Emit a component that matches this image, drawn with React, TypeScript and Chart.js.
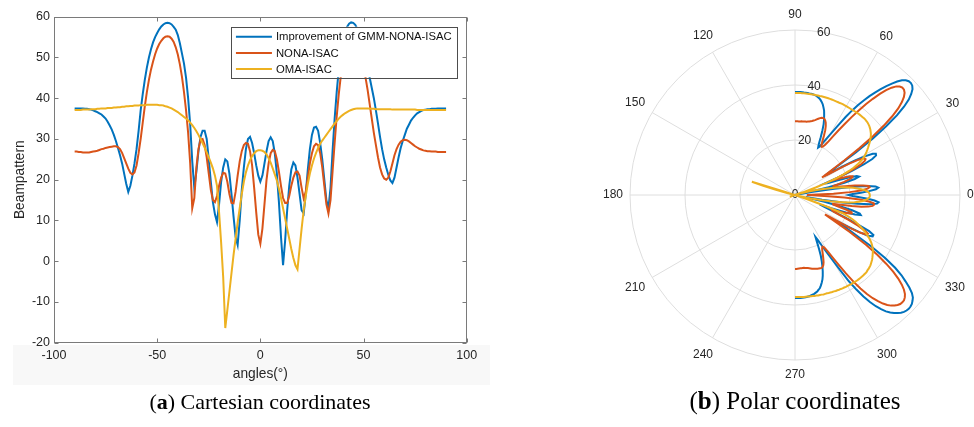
import React, { useEffect, useRef } from "react";
import { Chart, registerables } from "chart.js";

Chart.register(...registerables);

// ---------- data ----------
// sample angles (degrees) of the beampattern, -90 .. 90 in 1° steps
const ANGLES: number[] = Array.from({ length: 181 }, (_, i) => i - 90);

const SERIES_LABELS = ["Improvement of GMM-NONA-ISAC", "NONA-ISAC", "OMA-ISAC"];

// Improvement of GMM-NONA-ISAC
const GMM_NONA: number[] = [
  37.5, 37.5, 37.5, 37.5, 37.5, 37.4, 37.4, 37.3, 37.2, 37.0, // -90..-81
  36.8, 36.6, 36.3, 36.0, 35.5, 35.0, 34.2, 33.3, 32.3, 31.0, // -80..-71
  29.5, 27.8, 26.0, 24.0, 21.5, 19.0, 17.0, 18.5, 21.0, 24.0, // -70..-61
  27.5, 32.0, 37.0, 41.0, 44.5, 47.5, 50.0, 52.0, 53.7, 55.0, // -60..-51
  56.0, 56.9, 57.6, 58.1, 58.4, 58.5, 58.4, 58.1, 57.5, 56.8, // -50..-41
  55.5, 53.5, 51.0, 48.5, 45.0, 40.0, 33.5, 24.5, 18.0, 22.0, // -40..-31
  27.0, 30.5, 32.0, 32.0, 30.0, 25.0, 19.5, 14.5, 11.5, 9.6,  // -30..-21
  14.0, 19.5, 23.0, 25.0, 24.5, 21.5, 16.5, 11.0, 6.0, 4.0,   // -20..-11
  10.0, 17.5, 23.0, 27.5, 30.0, 30.5, 29.0, 26.5, 23.5, 21.0, // -10..-1
  19.5,                                                       // 0
  21.0, 24.0, 27.0, 29.5, 30.4, 29.5, 26.5, 21.5, 14.5, 6.0,  // 1..10
  -1.0, 5.0, 12.5, 18.5, 22.5, 24.2, 23.5, 20.5, 16.5, 12.5,  // 11..20
  11.7, 16.5, 22.5, 27.5, 31.0, 32.8, 33.0, 32.0, 29.0, 25.0, // 21..30
  20.0, 15.0, 13.0, 18.0, 27.0, 35.0, 41.5, 47.0, 51.0, 54.0, // 31..40
  56.0, 57.5, 58.3, 58.6, 58.5, 58.0, 57.0, 55.5, 53.7, 51.7, // 41..50
  49.5, 47.2, 45.0, 42.5, 40.0, 37.0, 33.8, 30.5, 27.5, 25.0, // 51..60
  23.0, 21.2, 19.8, 19.2, 20.5, 23.0, 25.5, 27.8, 29.5, 31.0, // 61..70
  32.5, 33.5, 34.5, 35.2, 35.8, 36.3, 36.6, 36.9, 37.1, 37.2, // 71..80
  37.3, 37.3, 37.4, 37.4, 37.4, 37.5, 37.5, 37.5, 37.5, 37.5, // 81..90
];

// NONA-ISAC
const NONA: number[] = [
  26.9, 26.9, 26.8, 26.8, 26.7, 26.7, 26.7, 26.7, 26.8, 26.9, // -90..-81
  27.0, 27.1, 27.3, 27.5, 27.6, 27.8, 27.9, 28.0, 28.1, 28.2, // -80..-71
  28.2, 28.0, 27.5, 26.6, 25.3, 24.0, 22.7, 21.7, 21.3, 21.8, // -70..-61
  23.5, 26.5, 30.0, 34.0, 38.0, 41.5, 44.5, 47.0, 49.0, 50.8, // -60..-51
  52.2, 53.3, 54.1, 54.7, 55.1, 55.2, 55.1, 54.6, 53.8, 52.5, // -50..-41
  50.7, 48.3, 45.3, 41.5, 37.0, 31.5, 24.0, 13.0, 15.5, 23.0, // -40..-31
  27.5, 29.8, 30.0, 28.5, 25.5, 21.5, 17.5, 15.0, 14.5, 16.0, // -30..-21
  18.5, 20.5, 21.7, 21.5, 19.5, 16.5, 14.3, 14.2, 17.0, 21.0, // -20..-11
  24.5, 27.0, 28.5, 29.0, 28.8, 27.0, 23.5, 18.0, 12.0, 6.5,  // -10..-1
  4.3,                                                        // 0
  8.0, 14.0, 20.0, 24.0, 26.5, 27.3, 27.0, 25.0, 22.0, 18.5,  // 1..10
  15.5, 14.3, 14.3, 16.0, 18.5, 20.5, 21.8, 22.0, 21.0, 18.0, // 11..20
  15.4, 17.0, 20.5, 24.0, 26.5, 28.2, 28.8, 28.5, 26.5, 23.0, // 21..30
  18.5, 14.0, 11.7, 15.0, 22.0, 29.0, 35.5, 41.0, 45.5, 49.0, // 31..40
  51.5, 53.3, 54.5, 55.1, 55.2, 54.8, 54.0, 52.5, 50.5, 48.0, // 41..50
  45.0, 42.0, 38.5, 35.0, 31.5, 28.5, 25.5, 23.0, 21.3, 20.3, // 51..60
  20.0, 20.5, 22.0, 24.0, 26.0, 27.5, 28.6, 29.3, 29.7, 29.8, // 61..70
  29.7, 29.4, 29.0, 28.6, 28.2, 27.9, 27.6, 27.4, 27.2, 27.1, // 71..80
  27.0, 27.0, 26.9, 26.9, 26.9, 26.8, 26.8, 26.8, 26.8, 26.8, // 81..90
];

// OMA-ISAC
const OMA: number[] = [
  37.1, 37.1, 37.1, 37.1, 37.2, 37.2, 37.2, 37.2, 37.3, 37.3, // -90..-81
  37.3, 37.4, 37.4, 37.5, 37.5, 37.5, 37.6, 37.6, 37.6, 37.7, // -80..-71
  37.7, 37.8, 37.8, 37.9, 37.9, 38.0, 38.0, 38.1, 38.1, 38.2, // -70..-61
  38.2, 38.2, 38.3, 38.3, 38.3, 38.4, 38.4, 38.4, 38.4, 38.4, // -60..-51
  38.4, 38.3, 38.3, 38.2, 38.0, 37.9, 37.7, 37.5, 37.2, 36.9, // -50..-41
  36.6, 36.2, 35.8, 35.4, 35.0, 34.6, 34.0, 33.4, 32.7, 31.9, // -40..-31
  31.0, 30.0, 29.0, 27.9, 26.7, 25.5, 24.2, 22.8, 21.0, 18.5, // -30..-21
  12.0, 4.5, -4.0, -16.4, -12.0, -7.5, -3.0, 1.5, 5.5, 9.5,   // -20..-11
  13.0, 16.5, 19.5, 21.8, 23.5, 24.8, 25.8, 26.5, 27.0, 27.2, // -10..-1
  27.2,                                                       // 0
  27.1, 26.8, 26.2, 25.3, 24.2, 22.8, 21.3, 19.8, 17.8, 15.5, // 1..10
  13.0, 10.5, 8.0, 5.5, 3.0, 0.8, -1.0, -2.0, 3.0, 8.0,       // 11..20
  12.5, 16.0, 19.0, 21.5, 23.5, 25.2, 26.6, 27.8, 28.8, 29.6, // 21..30
  30.3, 31.0, 31.7, 32.4, 33.1, 33.8, 34.4, 35.0, 35.5, 35.9, // 31..40
  36.3, 36.6, 36.9, 37.1, 37.3, 37.4, 37.5, 37.5, 37.5, 37.5, // 41..50
  37.5, 37.5, 37.4, 37.4, 37.4, 37.3, 37.3, 37.3, 37.3, 37.3, // 51..60
  37.3, 37.3, 37.3, 37.2, 37.2, 37.2, 37.2, 37.2, 37.2, 37.2, // 61..70
  37.2, 37.2, 37.2, 37.2, 37.2, 37.1, 37.1, 37.1, 37.1, 37.1, // 71..80
  37.1, 37.1, 37.1, 37.1, 37.1, 37.1, 37.1, 37.1, 37.1, 37.1, // 81..90
];

const SERIES = [GMM_NONA, NONA, OMA];
const COLORS = ["#0072BD", "#D95319", "#EDB120"];

// axis ticks
const X_TICKS = [-100, -50, 0, 50, 100];
const Y_TICKS = [-20, -10, 0, 10, 20, 30, 40, 50, 60];
const POLAR_ANGLE_TICKS = [0, 30, 60, 90, 120, 150, 180, 210, 240, 270, 300, 330];
const POLAR_R_TICKS = [0, 20, 40, 60];

// ---------- style ----------
const SANS = '"Liberation Sans", Arial, sans-serif';
const TEXT_C = "#262626";
const AXIS_C = "#7a7a7a";
const GRID_C = "#dedede";

// radar index i  <->  polar angle -i (mod 360), with startAngle 90 => 0° at right, counter-clockwise
const polarIndex = (deg: number) => ((360 - deg) % 360 + 360) % 360;
const toPolar = (vals: number[]) => {
  const arr: (number | null)[] = new Array(360).fill(null);
  ANGLES.forEach((a, k) => {
    arr[polarIndex(a)] = vals[k];
  });
  return arr;
};

const boxPlugin = {
  id: "matlabBox",
  afterDatasetsDraw(chart: any) {
    const { ctx, chartArea: a, scales } = chart;
    ctx.save();
    ctx.strokeStyle = AXIS_C;
    ctx.lineWidth = 1;
    const L = Math.round(a.left) + 0.5, R = Math.round(a.right) - 0.5;
    const T = Math.round(a.top) + 0.5, B = Math.round(a.bottom) - 0.5;
    ctx.strokeRect(L, T, R - L, B - T);
    const len = 4;
    ctx.beginPath();
    X_TICKS.forEach((v) => {
      const px = Math.round(scales.x.getPixelForValue(v)) + 0.5;
      ctx.moveTo(px, B); ctx.lineTo(px, B - len);
      ctx.moveTo(px, T); ctx.lineTo(px, T + len);
    });
    Y_TICKS.forEach((v) => {
      const py = Math.round(scales.y.getPixelForValue(v)) + 0.5;
      ctx.moveTo(L, py); ctx.lineTo(L + len, py);
      ctx.moveTo(R, py); ctx.lineTo(R - len, py);
    });
    ctx.stroke();
    ctx.restore();
  },
};

const legendPlugin = {
  id: "matlabLegend",
  afterDraw(chart: any) {
    const { ctx, chartArea: a } = chart;
    const ds = chart.data.datasets;
    ctx.save();
    ctx.font = `11.3px ${SANS}`;
    const textW = Math.max(...ds.map((d: any) => ctx.measureText(d.label).width));
    const w = 45 + textW + 5;
    const rowH = 16.2;
    const h = rowH * ds.length + 2;
    const x = a.right - 10 - w;
    const y = a.top + 10;
    ctx.fillStyle = "#ffffff";
    ctx.fillRect(x, y, w, h);
    ctx.strokeStyle = "#4d4d4d";
    ctx.lineWidth = 1;
    ctx.strokeRect(Math.round(x) + 0.5, Math.round(y) + 0.5, Math.round(w), Math.round(h));
    ds.forEach((d: any, i: number) => {
      const cy = y + 10 + i * rowH;
      ctx.strokeStyle = d.borderColor;
      ctx.lineWidth = 2;
      ctx.beginPath();
      ctx.moveTo(x + 5, cy);
      ctx.lineTo(x + 41, cy);
      ctx.stroke();
      ctx.fillStyle = "#111111";
      ctx.textAlign = "left";
      ctx.textBaseline = "middle";
      ctx.fillText(d.label, x + 45, cy + 0.5);
    });
    ctx.restore();
  },
};

const polarLabelsPlugin = {
  id: "polarLabels",
  beforeDatasetsDraw(chart: any) {
    const { ctx } = chart;
    const sc = chart.scales.r;
    ctx.save();
    ctx.font = `12px ${SANS}`;
    ctx.fillStyle = TEXT_C;
    ctx.textAlign = "center";
    ctx.textBaseline = "middle";
    POLAR_R_TICKS.forEach((v) => {
      const p = sc.getPointPositionForValue(polarIndex(80), v);
      ctx.fillText(String(v), p.x, p.y);
    });
    ctx.restore();
  },
  afterDraw(chart: any) {
    const { ctx } = chart;
    const sc = chart.scales.r;
    ctx.save();
    ctx.font = `12px ${SANS}`;
    ctx.fillStyle = TEXT_C;
    ctx.textAlign = "center";
    ctx.textBaseline = "middle";
    POLAR_ANGLE_TICKS.forEach((deg) => {
      const txt = String(deg);
      const w = ctx.measureText(txt).width;
      const rad = (deg * Math.PI) / 180;
      const dist = sc.drawingArea + 7 + Math.abs(Math.cos(rad)) * (w / 2) + Math.abs(Math.sin(rad)) * 8;
      const p = sc.getPointPosition(polarIndex(deg), dist);
      ctx.fillText(txt, p.x, p.y);
    });
    ctx.restore();
  },
};

function CartesianChart() {
  const ref = useRef<HTMLCanvasElement>(null);
  useEffect(() => {
    if (!ref.current) return;
    const chart = new Chart(ref.current, {
      type: "line",
      data: {
        datasets: SERIES.map((vals, s) => ({
          label: SERIES_LABELS[s],
          data: ANGLES.map((a, k) => ({ x: a, y: vals[k] })),
          borderColor: COLORS[s],
          backgroundColor: COLORS[s],
          borderWidth: 2,
          pointRadius: 0,
          tension: 0,
          fill: false,
          order: 3 - s,
        })),
      },
      options: {
        animation: false,
        responsive: false,
        events: [],
        layout: { padding: { left: 0, right: 33.3, top: 16.7, bottom: 0 } },
        plugins: { legend: { display: false }, tooltip: { enabled: false } },
        scales: {
          x: {
            type: "linear",
            min: -100,
            max: 100,
            afterBuildTicks: (s: any) => { s.ticks = X_TICKS.map((v) => ({ value: v })); },
            ticks: { font: { family: SANS, size: 12.5 }, color: TEXT_C, padding: 5, maxRotation: 0 },
            grid: { display: false, drawTicks: false },
            border: { display: false },
            title: { display: true, text: "angles(°)", font: { family: SANS, size: 13.75 }, color: TEXT_C, padding: { top: 0, bottom: 7.5 } },
            afterFit: (s: any) => { s.height = 47.3; },
          },
          y: {
            type: "linear",
            min: -20,
            max: 60,
            afterBuildTicks: (s: any) => { s.ticks = Y_TICKS.map((v) => ({ value: v })); },
            ticks: { font: { family: SANS, size: 12.5 }, color: TEXT_C, padding: 4 },
            grid: { display: false, drawTicks: false },
            border: { display: false },
            title: { display: true, text: "Beampattern", font: { family: SANS, size: 13.75 }, color: TEXT_C, padding: { top: 11.5, bottom: 0 } },
            afterFit: (s: any) => { s.width = 54; },
          },
        },
      } as any,
      plugins: [boxPlugin, legendPlugin],
    });
    return () => chart.destroy();
  }, []);
  return <canvas ref={ref} width={500} height={390} style={{ position: "absolute", left: 0, top: 0, width: 500, height: 390 }} />;
}

function PolarChart() {
  const ref = useRef<HTMLCanvasElement>(null);
  useEffect(() => {
    if (!ref.current) return;
    const labels = Array.from({ length: 360 }, (_, i) => String(i));
    const chart = new Chart(ref.current, {
      type: "radar",
      data: {
        labels,
        datasets: SERIES.map((vals, s) => ({
          label: SERIES_LABELS[s],
          data: toPolar(vals),
          borderColor: COLORS[s],
          backgroundColor: "transparent",
          borderWidth: 2,
          pointRadius: 0,
          fill: false,
          spanGaps: false,
          order: 3 - s,
        })),
      },
      options: {
        animation: false,
        responsive: false,
        events: [],
        layout: { padding: { left: 40, right: 14, top: 30, bottom: 40 } },
        plugins: { legend: { display: false }, tooltip: { enabled: false } },
        scales: {
          r: {
            min: 0,
            max: 60,
            startAngle: 90,
            ticks: { display: false, stepSize: 20 },
            grid: { circular: true, color: GRID_C, lineWidth: 1 },
            angleLines: {
              display: true,
              color: GRID_C,
              lineWidth: (c: any) => (c.index % 30 === 0 ? 1 : 0),
            },
            pointLabels: { display: false },
          },
        },
      } as any,
      plugins: [polarLabelsPlugin],
    });
    return () => chart.destroy();
  }, []);
  return <canvas ref={ref} width={384} height={400} style={{ position: "absolute", left: 590, top: 0, width: 384, height: 400 }} />;
}

const captionStyle: React.CSSProperties = {
  position: "absolute",
  width: 520,
  textAlign: "center",
  fontFamily: '"Liberation Serif", "Times New Roman", serif',
  color: "#000",
  whiteSpace: "nowrap",
};

export default function App() {
  return (
    <div style={{ position: "absolute", left: 0, top: 0, width: 974, height: 427, background: "#fff", overflow: "hidden" }}>
      <div style={{ position: "absolute", left: 13, top: 345, width: 477, height: 40, background: "#f8f8f8" }} />
      <CartesianChart />
      <PolarChart />
      <div style={{ ...captionStyle, left: 0, top: 389, fontSize: 22, lineHeight: "26px" }}>
        (<b>a</b>) Cartesian coordinates
      </div>
      <div style={{ ...captionStyle, left: 535, top: 387, fontSize: 25, lineHeight: "28px" }}>
        (<b>b</b>) Polar coordinates
      </div>
    </div>
  );
}
